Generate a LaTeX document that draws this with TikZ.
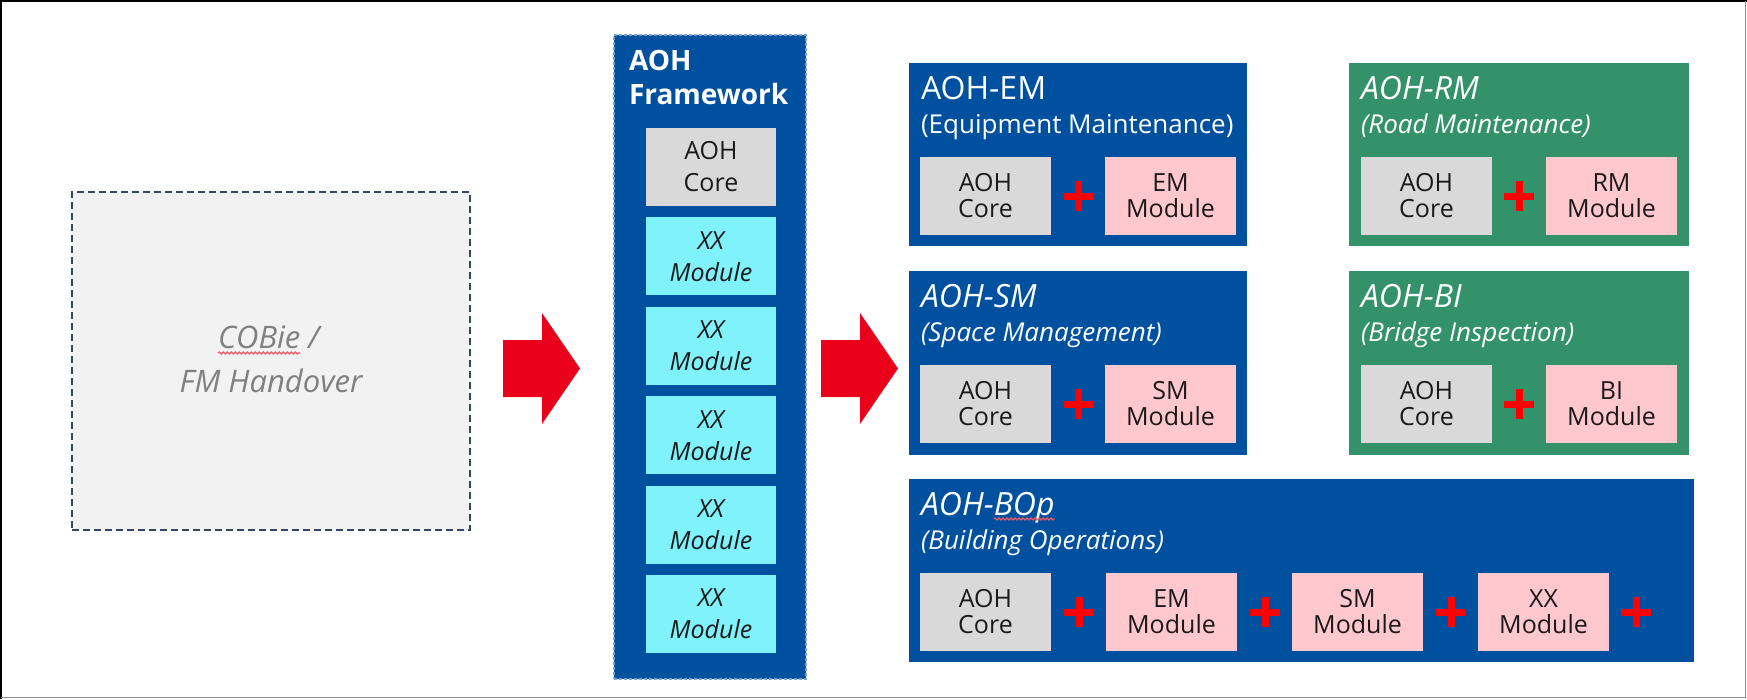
\documentclass[tikz,border=0pt]{standalone}
\usepackage{fontspec}
\setmainfont{Open Sans}
\usetikzlibrary{decorations.pathmorphing}

\definecolor{aohblue}{RGB}{0,80,160}
\definecolor{aohgreen}{RGB}{52,146,106}
\definecolor{corefill}{RGB}{217,217,217}
\definecolor{modfill}{RGB}{255,199,206}
\definecolor{xxfill}{RGB}{127,242,252}
\definecolor{arrowred}{RGB}{235,0,28}
\definecolor{plusred}{RGB}{255,0,0}
\definecolor{cobiegray}{RGB}{128,128,128}
\definecolor{cobieedge}{RGB}{52,70,100}
\definecolor{cobiefill}{RGB}{242,242,242}
\definecolor{fwedge}{RGB}{120,160,215}
\definecolor{boxtext}{RGB}{26,26,26}
\definecolor{spellred}{RGB}{240,90,100}

\begin{document}
\begin{tikzpicture}[x=1pt,y=-1pt,
  every node/.style={inner sep=0pt, outer sep=0pt},
  sz/.style 2 args={minimum width=#1pt, minimum height=#2pt},
  panelblue/.style={rectangle, anchor=north west, fill=aohblue},
  panelgreen/.style={rectangle, anchor=north west, fill=aohgreen},
  innerbox/.style={rectangle, anchor=north west, sz={131}{78}, align=center,
    text=boxtext, font=\fontsize{25}{26}\selectfont},
  corebox/.style={innerbox, fill=corefill},
  modbox/.style={innerbox, fill=modfill},
  fwbox/.style={rectangle, sz={130}{78}, align=center, text=boxtext,
    font=\fontsize{25}{32}\selectfont},
  fwtitle/.style={anchor=base west, text=white, font=\fontsize{28}{35}\selectfont\bfseries},
  ptitle/.style={anchor=base west, text=white, font=\fontsize{32}{38}\selectfont},
  ititle/.style={ptitle, font=\fontsize{32}{38}\selectfont\itshape},
  psub/.style={anchor=base west, text=white, font=\fontsize{26}{30}\selectfont},
  isub/.style={psub, font=\fontsize{26}{30}\selectfont\itshape},
  cobietext/.style={anchor=base west, text=cobiegray, font=\fontsize{31}{42}\selectfont\itshape},
  squiggle/.style={draw=spellred, line width=1.2pt,
    decoration={snake, amplitude=1pt, segment length=4pt}, decorate},
  plussign/.pic={
    \fill[plusred] (-15,-3.5) rectangle (15,3.5);
    \fill[plusred] (-3.5,-15) rectangle (3.5,15);},
  redarrow/.pic={
    \fill[arrowred] (0,-28.5) -- (39,-28.5) -- (39,-55.5) -- (77,0)
      -- (39,55.5) -- (39,28.5) -- (0,28.5) -- cycle;}
]
\useasboundingbox (0,0) rectangle (1747,699);

% outer frame
\draw[black, line width=2pt] (1,699) -- (1,1) -- (1747,1);
\draw[black!45, line width=1.2pt] (1745.5,1) -- (1745.5,697.5) -- (1,697.5);

% source: COBie / FM handover
\node[rectangle, anchor=north west, sz={398}{338}, fill=cobiefill, draw=cobieedge,
  line width=2pt, dash pattern=on 7pt off 4pt] (cobie) at (72,192) {};
\node[cobietext] (cobieW) at (218,348) {COBie};
\node[cobietext] (cobieS) at (cobieW.base east) {\ /};
\node[cobietext, anchor=base] (cobieB) at (271,392) {FM Handover};
\draw[squiggle] ([yshift=-5pt]cobieW.base west) -- ([yshift=-5pt]cobieW.base east);

% block arrows
\coordinate (arrA) at (503,368.5);
\coordinate (arrB) at (821,368.5);
\pic at (arrA) {redarrow};
\pic at (arrB) {redarrow};

% AOH framework column
\node[rectangle, anchor=north west, sz={192}{644}, fill=aohblue, draw=fwedge,
  line width=1.5pt, dash pattern=on 3pt off 2pt] (fw) at (614,35) {};
\node[fwtitle] (fwA) at (629,70) {AOH};
\node[fwtitle] (fwB) at (629,104) {Framework};
\node[fwbox, fill=corefill] (fwcore) at (711,167) {AOH\\Core};
\node[fwbox, fill=xxfill, font=\fontsize{25}{32}\selectfont\itshape] (fwx1) at (711,256.4) {XX\\Module};
\node[fwbox, fill=xxfill, font=\fontsize{25}{32}\selectfont\itshape] (fwx2) at (711,345.8) {XX\\Module};
\node[fwbox, fill=xxfill, font=\fontsize{25}{32}\selectfont\itshape] (fwx3) at (711,435.2) {XX\\Module};
\node[fwbox, fill=xxfill, font=\fontsize{25}{32}\selectfont\itshape] (fwx4) at (711,524.6) {XX\\Module};
\node[fwbox, fill=xxfill, font=\fontsize{25}{32}\selectfont\itshape] (fwx5) at (711,614) {XX\\Module};

% AOH-EM
\node[panelblue, sz={338}{183}] (em) at (909,63) {};
\node[ptitle] (emT) at (921,99) {AOH-EM};
\node[psub] (emS) at (921,133) {(Equipment Maintenance)};
\node[corebox] (emcore) at (920,157) {AOH\\Core};
\node[modbox] (emmod) at (1105,157) {EM\\Module};
\pic at (1078.5,196) {plussign};

% AOH-RM
\node[panelgreen, sz={340}{183}] (rm) at (1349,63) {};
\node[ititle] (rmT) at (1361,99) {AOH-RM};
\node[isub] (rmS) at (1361,133) {(Road Maintenance)};
\node[corebox] (rmcore) at (1361,157) {AOH\\Core};
\node[modbox] (rmmod) at (1546,157) {RM\\Module};
\pic at (1519,196) {plussign};

% AOH-SM
\node[panelblue, sz={338}{184}] (sm) at (909,271) {};
\node[ititle] (smT) at (921,307) {AOH-SM};
\node[isub] (smS) at (921,341) {(Space Management)};
\node[corebox] (smcore) at (920,365) {AOH\\Core};
\node[modbox] (smmod) at (1105,365) {SM\\Module};
\pic at (1078.5,404) {plussign};

% AOH-BI
\node[panelgreen, sz={340}{184}] (bi) at (1349,271) {};
\node[ititle] (biT) at (1361,307) {AOH-BI};
\node[isub] (biS) at (1361,341) {(Bridge Inspection)};
\node[corebox] (bicore) at (1361,365) {AOH\\Core};
\node[modbox] (bimod) at (1546,365) {BI\\Module};
\pic at (1519,404) {plussign};

% AOH-BOp
\node[panelblue, sz={785}{183}] (bop) at (909,479) {};
\node[ititle] (bopT) at (921,515) {AOH-};
\node[ititle] (bopU) at (bopT.base east) {BOp};
\node[isub] (bopS) at (921,549) {(Building Operations)};
\draw[squiggle] ([yshift=-4pt]bopU.base west) -- ([yshift=-4pt]bopU.base east);
\node[corebox] (bopcore) at (920,573) {AOH\\Core};
\node[modbox] (bopem) at (1106,573) {EM\\Module};
\node[modbox] (bopsm) at (1292,573) {SM\\Module};
\node[modbox] (bopxx) at (1478,573) {XX\\Module};
\pic at (1079,612) {plussign};
\pic at (1265,612) {plussign};
\pic at (1451,612) {plussign};
\pic at (1636,612) {plussign};
\end{tikzpicture}
\end{document}
